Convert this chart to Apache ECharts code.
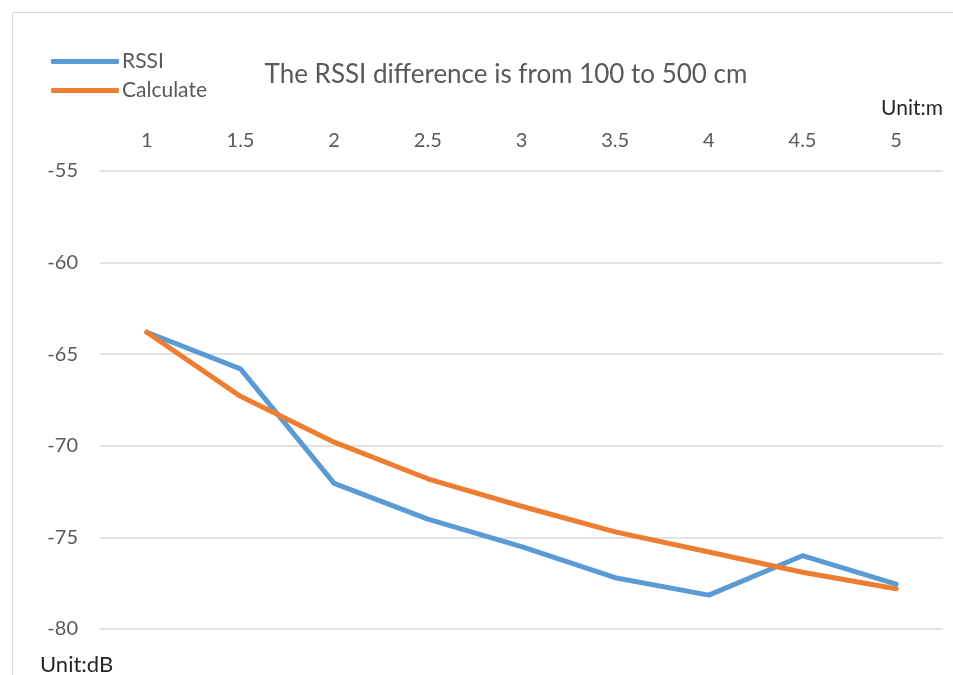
<!DOCTYPE html>
<html>
<head>
<meta charset="utf-8">
<script src="https://cdn.jsdelivr.net/npm/echarts@6/dist/echarts.min.js"></script>
<style>
  html, body { margin: 0; padding: 0; background: #fff; }
  #chart { width: 953px; height: 675px; }
</style>
</head>
<body>
<div id="chart"></div>
<script>
// Distance categories (m)
const distances = ['1', '1.5', '2', '2.5', '3', '3.5', '4', '4.5', '5'];
// Measured signal strength (dB)
const rssiValues = [-63.8, -65.8, -72.05, -74.0, -75.5, -77.2, -78.15, -76.0, -77.55];
// Path-loss model estimate (dB)
const calculateValues = [-63.8, -67.3, -69.8, -71.8, -73.3, -74.7, -75.8, -76.9, -77.8];

const FONT = 'Lato, "Open Sans", sans-serif';
const chart = echarts.init(document.getElementById('chart'));

chart.setOption({
  animation: false,
  backgroundColor: '#fff',
  textStyle: { fontFamily: FONT },
  title: {
    text: 'The RSSI difference is from 100 to 500 cm',
    left: 501,
    top: 57,
    textAlign: 'center',
    textStyle: { fontFamily: FONT, fontSize: 26, fontWeight: 'normal', color: '#595959' }
  },
  legend: {
    left: 46,
    top: 46,
    orient: 'vertical',
    itemWidth: 68,
    itemHeight: 5,
    itemGap: 8,
    icon: 'roundRect',
    textStyle: { fontFamily: FONT, fontSize: 21, color: '#595959', padding: [0, 0, 0, -2] },
    data: ['RSSI', 'Calculate']
  },
  graphic: [
    {
      type: 'rect',
      shape: { x: 12.5, y: 12.5, width: 950, height: 700 },
      style: { fill: 'none', stroke: '#d9d9d9', lineWidth: 1 },
      silent: true
    },
    {
      type: 'text',
      right: 10,
      top: 98,
      style: { text: 'Unit:m', fontFamily: FONT, fontSize: 21, fill: '#262626' }
    },
    {
      type: 'text',
      left: 40,
      top: 654,
      style: { text: 'Unit:dB', fontFamily: FONT, fontSize: 22, fill: '#262626' }
    }
  ],
  grid: { left: 100, right: 10, top: 171, bottom: 46 },
  xAxis: {
    type: 'category',
    position: 'top',
    data: distances,
    boundaryGap: true,
    axisLine: { show: false },
    axisTick: { show: false },
    axisLabel: { fontFamily: FONT, fontSize: 20, color: '#595959', margin: 20 },
    splitLine: { show: false }
  },
  yAxis: {
    type: 'value',
    min: -80,
    max: -55,
    interval: 5,
    axisLine: { show: false },
    axisTick: { show: false },
    axisLabel: { fontFamily: FONT, fontSize: 20, color: '#595959', margin: 22 },
    splitLine: { lineStyle: { color: '#d9d9d9', width: 1.5 } }
  },
  series: [
    {
      name: 'RSSI',
      type: 'line',
      data: rssiValues,
      symbol: 'none',
      color: '#5B9BD5',
      lineStyle: { width: 5, color: '#5B9BD5', cap: 'round', join: 'round' }
    },
    {
      name: 'Calculate',
      type: 'line',
      data: calculateValues,
      symbol: 'none',
      color: '#ED7D31',
      lineStyle: { width: 5, color: '#ED7D31', cap: 'round', join: 'round' }
    }
  ]
});
</script>
</body>
</html>
